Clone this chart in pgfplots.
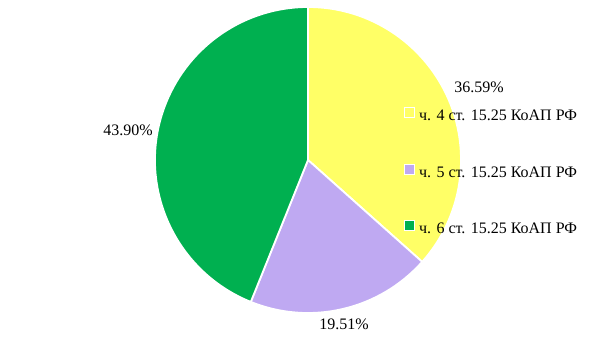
\documentclass[border=0pt]{standalone}
\usepackage{fontspec}
\setmainfont{Liberation Serif}
\usepackage{pgfplots}
\usepackage{pgfplotstable}
\pgfplotsset{compat=1.18}
\definecolor{pieY}{HTML}{FFFF66}
\definecolor{pieP}{HTML}{BFA9F2}
\definecolor{pieG}{HTML}{00B050}
\pgfplotstableread{
pct
36.59
19.51
43.90
}\piedata
\begin{document}
\begin{tikzpicture}
\pgfplotstablegetelem{0}{pct}\of\piedata \let\pA\pgfplotsretval
\pgfplotstablegetelem{1}{pct}\of\piedata \let\pB\pgfplotsretval
\pgfplotstablegetelem{2}{pct}\of\piedata \let\pC\pgfplotsretval
\pgfmathsetmacro\angA{90}
\pgfmathsetmacro\angB{\angA-3.6*\pA}
\pgfmathsetmacro\angC{\angB-3.6*\pB}
\pgfmathsetmacro\angD{\angC-3.6*\pC}
\def\cx{308}\def\cy{180}\def\R{153}
\begin{axis}[
  width=605bp, height=340bp, scale only axis,
  xmin=0, xmax=605, ymin=0, ymax=340,
  hide axis, clip=false,
  legend cell align=left,
  legend image code/.code={\draw[#1, draw=white, line width=1bp] (0bp,-1bp) rectangle (10bp,9bp);},
  legend style={draw=none, fill=none, font=\fontsize{16bp}{19bp}\selectfont,
    at={(axis cs:401,235)}, anchor=north west,
    row sep=40bp, column sep=4bp,
    nodes={inner sep=0pt, text height=11bp, text depth=3bp}},
]
\path (axis cs:0,0) rectangle (axis cs:605,340);
\addlegendimage{fill=pieY}
\addlegendentry{ч. 4 ст. 15.25 КоАП РФ}
\addlegendimage{fill=pieP}
\addlegendentry{ч. 5 ст. 15.25 КоАП РФ}
\addlegendimage{fill=pieG}
\addlegendentry{ч. 6 ст. 15.25 КоАП РФ}
\filldraw[pieY, draw=white, line width=1.8bp, line join=round]
  (axis cs:\cx,\cy) -- (axis cs:{\cx+\R*cos(\angA)},{\cy+\R*sin(\angA)})
  arc[start angle=\angA, end angle=\angB, radius=\R bp] -- cycle;
\filldraw[pieP, draw=white, line width=1.8bp, line join=round]
  (axis cs:\cx,\cy) -- (axis cs:{\cx+\R*cos(\angB)},{\cy+\R*sin(\angB)})
  arc[start angle=\angB, end angle=\angC, radius=\R bp] -- cycle;
\filldraw[pieG, draw=white, line width=1.8bp, line join=round]
  (axis cs:\cx,\cy) -- (axis cs:{\cx+\R*cos(\angC)},{\cy+\R*sin(\angC)})
  arc[start angle=\angC, end angle=\angD, radius=\R bp] -- cycle;
\node[font=\fontsize{16bp}{19bp}\selectfont] at (axis cs:479,253) {36.59\%};
\node[font=\fontsize{16bp}{19bp}\selectfont] at (axis cs:128,210) {43.90\%};
\node[font=\fontsize{16bp}{19bp}\selectfont] at (axis cs:344,16) {19.51\%};
\end{axis}
\end{tikzpicture}
\end{document}
